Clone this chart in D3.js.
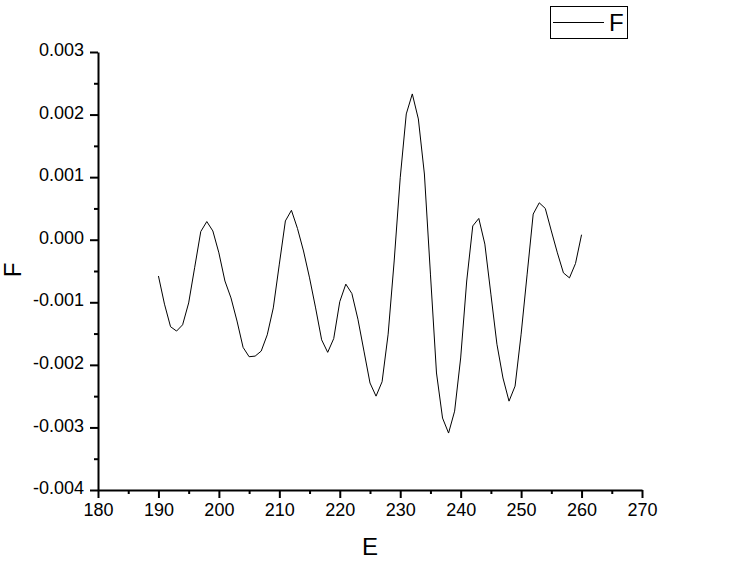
<!DOCTYPE html>
<meta charset='utf-8'>
<title>F vs E</title>
<style>
body {
  margin: 0;
  background-color: #fff;
}
text {
  font-family: "Liberation Sans", Arial, sans-serif;
  fill: #000;
}
</style>
<svg width="729" height="585"></svg>
<script src="https://d3js.org/d3.v7.min.js"></script>
<script>

// E values (x) and the matching F values (y, in units of 1e-3)
var energies = d3.range(190, 261);
var fValues = [
  -0.58, -1.03, -1.39, -1.46, -1.36, -1.01, -0.44, 0.13, 0.29, 0.14,
  -0.21, -0.66, -0.93, -1.30, -1.72, -1.87, -1.86, -1.78, -1.52, -1.09,
  -0.39, 0.30, 0.47, 0.18, -0.18, -0.61, -1.09, -1.60, -1.80, -1.58,
  -0.99, -0.71, -0.86, -1.27, -1.78, -2.29, -2.50, -2.27, -1.51, -0.34,
  0.99, 2.01, 2.33, 1.93, 1.05, -0.55, -2.13, -2.85, -3.09, -2.74,
  -1.89, -0.66, 0.22, 0.34, -0.07, -0.87, -1.67, -2.21, -2.58, -2.34,
  -1.51, -0.55, 0.41, 0.59, 0.50, 0.14, -0.21, -0.53, -0.61, -0.38,
  0.08
];

var xTicks = d3.range(180, 271, 10);
var xMinor = d3.range(185, 270, 10);
var yTicks = d3.range(-0.004, 0.00301, 0.001);
var yMinor = d3.range(-0.0035, 0.003, 0.001);

var legendLabel = "F";

var svg = d3.select("svg");

var x = d3.scaleLinear()
    .domain([180, 270])
    .range([98, 642]);

var y = d3.scaleLinear()
    .domain([-0.004, 0.003])
    .range([490, 52]);

var points = energies.map(function(e, i) { return [e, fValues[i] / 1000]; });

var line = d3.line()
    .x(function(d) { return x(d[0]); })
    .y(function(d) { return y(d[1]); });

// minor ticks first so the axes draw on top
svg.append("g")
    .attr("transform", "translate(0,490)")
    .call(d3.axisBottom(x).tickValues(xMinor).tickSize(4).tickFormat(""))
    .call(function(g) { g.select(".domain").remove(); })
    .selectAll("line").attr("stroke-width", 2);

svg.append("g")
    .attr("transform", "translate(98,0)")
    .call(d3.axisLeft(y).tickValues(yMinor).tickSize(4).tickFormat(""))
    .call(function(g) { g.select(".domain").remove(); })
    .selectAll("line").attr("stroke-width", 2);

var xAxis = svg.append("g")
    .attr("transform", "translate(0,490)")
    .call(d3.axisBottom(x).tickValues(xTicks).tickSize(8).tickSizeOuter(0).tickPadding(5));

var yAxis = svg.append("g")
    .attr("transform", "translate(98,0)")
    .call(d3.axisLeft(y).tickValues(yTicks).tickSize(8).tickSizeOuter(0).tickPadding(6)
      .tickFormat(function(d) { return d3.format(".3f")(Math.abs(d) < 1e-9 ? 0 : d).replace("−", "-"); }));

[xAxis, yAxis].forEach(function(g) {
  g.select(".domain").attr("stroke-width", 2);
  g.selectAll(".tick line").attr("stroke-width", 2);
  g.selectAll(".tick text")
      .attr("font-family", "'Liberation Sans', Arial, sans-serif")
      .attr("font-size", 18)
      .attr("fill", "#000");
});

yAxis.selectAll(".tick text").attr("dy", "0.2em");

// the curve
svg.append("path")
    .datum(points)
    .attr("fill", "none")
    .attr("stroke", "#000")
    .attr("stroke-width", 1)
    .attr("d", line);

// axis titles
svg.append("text")
    .attr("x", 370)
    .attr("y", 555)
    .attr("text-anchor", "middle")
    .attr("font-size", 24)
    .text("E");

svg.append("text")
    .attr("transform", "translate(21,270) rotate(-90)")
    .attr("text-anchor", "middle")
    .attr("font-size", 24)
    .text("F");

// legend
var legend = svg.append("g");

legend.append("rect")
    .attr("x", 550.5)
    .attr("y", 6.5)
    .attr("width", 77)
    .attr("height", 32)
    .attr("fill", "#fff")
    .attr("stroke", "#000")
    .attr("stroke-width", 1);

legend.append("line")
    .attr("x1", 553)
    .attr("x2", 604)
    .attr("y1", 22.5)
    .attr("y2", 22.5)
    .attr("stroke", "#000")
    .attr("stroke-width", 1);

legend.append("text")
    .attr("x", 609)
    .attr("y", 31)
    .attr("font-size", 24)
    .text(legendLabel);

</script>
